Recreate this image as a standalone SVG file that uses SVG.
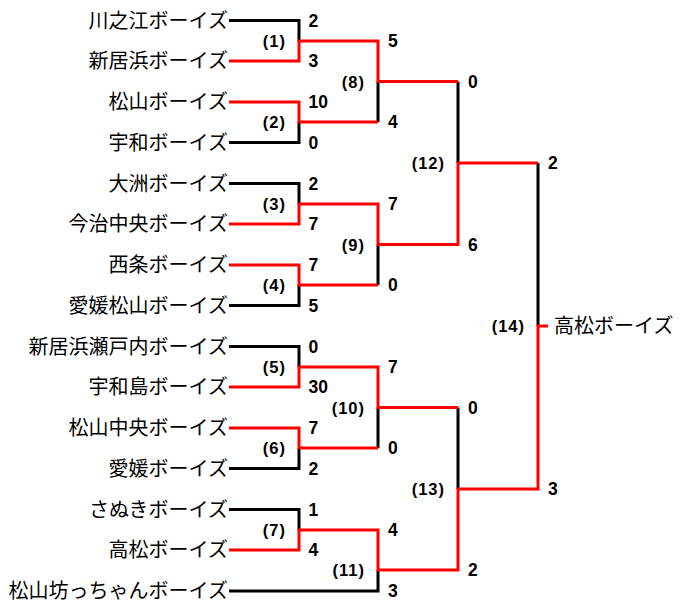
<svg xmlns="http://www.w3.org/2000/svg" width="680" height="610" viewBox="0 0 680 610">
<style>
.team{font-family:"Noto Sans CJK JP","Liberation Sans",sans-serif;font-size:20px;fill:#000;text-anchor:end}
.champ{font-family:"Noto Sans CJK JP","Liberation Sans",sans-serif;font-size:20px;fill:#000}
.score{font-family:"Liberation Sans",Arial,sans-serif;font-size:17.5px;font-weight:bold;fill:#000}
.lbl{font-family:"Liberation Sans",Arial,sans-serif;font-size:16.5px;font-weight:bold;fill:#000;text-anchor:end;letter-spacing:1px}
.k{fill:none;stroke:#000;stroke-width:3}
.r{fill:none;stroke:#ff0000;stroke-width:3}
</style>
<rect width="680" height="610" fill="#fff"/>
<g id="connectors">
<path class="k" d="M229 20.5H299V41"/>
<path class="k" d="M229 142.5H299V122"/>
<path class="k" d="M229 183.5H299V204"/>
<path class="k" d="M229 305.5H299V285"/>
<path class="k" d="M229 346.5H299V367"/>
<path class="k" d="M229 468.5H299V448"/>
<path class="k" d="M229 509.5H299V530"/>
<path class="k" d="M229 591H378V570"/>
<path class="k" d="M378 122V81.5"/>
<path class="k" d="M378 285V244.5"/>
<path class="k" d="M378 448V407.5"/>
<path class="k" d="M458 81.5V163"/>
<path class="k" d="M458 407.5V489"/>
<path class="k" d="M538 163V326"/>
<path class="r" d="M229 61H299V41H378V81.5H458"/>
<path class="r" d="M229 102H299V122H378"/>
<path class="r" d="M229 224H299V204H378V244.5H458V163H538"/>
<path class="r" d="M229 265H299V285H378"/>
<path class="r" d="M229 387H299V367H378V407.5H458"/>
<path class="r" d="M229 428H299V448H378"/>
<path class="r" d="M229 550H299V530H378V570H458V489H538V326H548"/>
</g>
<g id="team-kawanoe"><text class="team" x="228" y="27.5">川之江ボーイズ</text></g>
<g id="team-niihama"><text class="team" x="228" y="68">新居浜ボーイズ</text></g>
<g id="team-matsuyama"><text class="team" x="228" y="109">松山ボーイズ</text></g>
<g id="team-uwa"><text class="team" x="228" y="149.5">宇和ボーイズ</text></g>
<g id="team-ozu"><text class="team" x="228" y="190.5">大洲ボーイズ</text></g>
<g id="team-imabari-chuo"><text class="team" x="228" y="231">今治中央ボーイズ</text></g>
<g id="team-saijo"><text class="team" x="228" y="272">西条ボーイズ</text></g>
<g id="team-ehime-matsuyama"><text class="team" x="228" y="312.5">愛媛松山ボーイズ</text></g>
<g id="team-niihama-setouchi"><text class="team" x="228" y="353.5">新居浜瀬戸内ボーイズ</text></g>
<g id="team-uwajima"><text class="team" x="228" y="394">宇和島ボーイズ</text></g>
<g id="team-matsuyama-chuo"><text class="team" x="228" y="435">松山中央ボーイズ</text></g>
<g id="team-ehime"><text class="team" x="228" y="475.5">愛媛ボーイズ</text></g>
<g id="team-sanuki"><text class="team" x="228" y="516.5">さぬきボーイズ</text></g>
<g id="team-takamatsu"><text class="team" x="228" y="557">高松ボーイズ</text></g>
<g id="team-botchan"><text class="team" x="228" y="598">松山坊っちゃんボーイズ</text></g>
<g id="champion"><text class="champ" x="554" y="333">高松ボーイズ</text></g>
<g id="m1"><text class="lbl" x="286" y="47">(1)</text><text class="score" x="308.5" y="26.8">2</text><text class="score" x="308.5" y="67.3">3</text></g>
<g id="m2"><text class="lbl" x="286" y="128">(2)</text><text class="score" x="308.5" y="108.3">10</text><text class="score" x="308.5" y="148.8">0</text></g>
<g id="m3"><text class="lbl" x="286" y="210">(3)</text><text class="score" x="308.5" y="189.8">2</text><text class="score" x="308.5" y="230.3">7</text></g>
<g id="m4"><text class="lbl" x="286" y="291">(4)</text><text class="score" x="308.5" y="271.3">7</text><text class="score" x="308.5" y="311.8">5</text></g>
<g id="m5"><text class="lbl" x="286" y="373">(5)</text><text class="score" x="308.5" y="352.8">0</text><text class="score" x="308.5" y="393.3">30</text></g>
<g id="m6"><text class="lbl" x="286" y="454">(6)</text><text class="score" x="308.5" y="434.3">7</text><text class="score" x="308.5" y="474.8">2</text></g>
<g id="m7"><text class="lbl" x="286" y="536">(7)</text><text class="score" x="308.5" y="515.8">1</text><text class="score" x="308.5" y="556.3">4</text></g>
<g id="m8"><text class="lbl" x="365" y="87.5">(8)</text><text class="score" x="388" y="47.3">5</text><text class="score" x="388" y="128.3">4</text></g>
<g id="m9"><text class="lbl" x="365" y="250.5">(9)</text><text class="score" x="388" y="210.3">7</text><text class="score" x="388" y="291.3">0</text></g>
<g id="m10"><text class="lbl" x="365" y="413.5">(10)</text><text class="score" x="388" y="373.3">7</text><text class="score" x="388" y="454.3">0</text></g>
<g id="m11"><text class="lbl" x="365" y="576">(11)</text><text class="score" x="388" y="536.3">4</text><text class="score" x="388" y="597.3">3</text></g>
<g id="m12"><text class="lbl" x="445" y="169">(12)</text><text class="score" x="468" y="87.8">0</text><text class="score" x="468" y="250.8">6</text></g>
<g id="m13"><text class="lbl" x="445" y="495">(13)</text><text class="score" x="468" y="413.8">0</text><text class="score" x="468" y="576.3">2</text></g>
<g id="m14"><text class="lbl" x="525" y="332">(14)</text><text class="score" x="548" y="169.3">2</text><text class="score" x="548" y="495.3">3</text></g>
</svg>
